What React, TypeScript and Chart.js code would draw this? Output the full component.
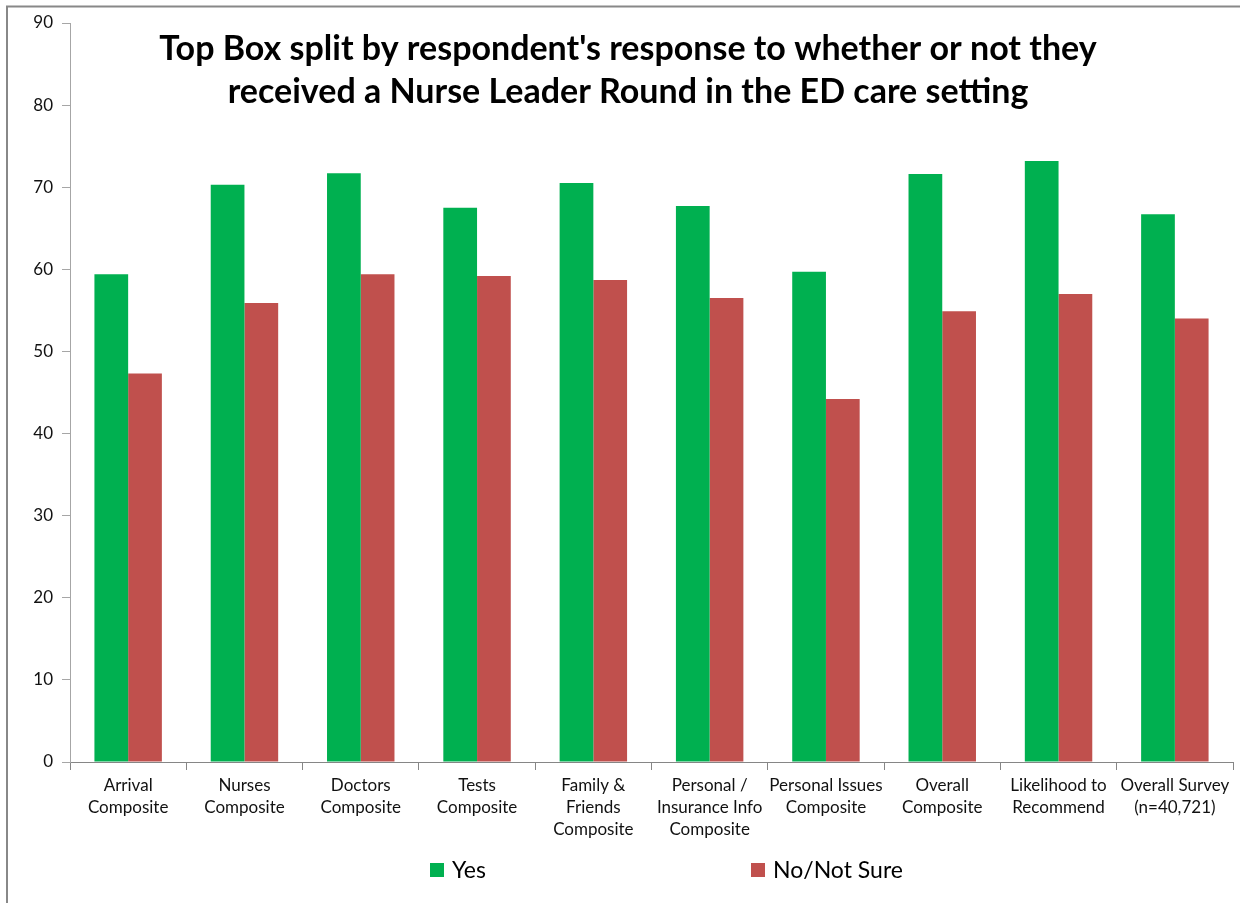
import React, { useEffect, useRef } from "react";
import { Chart, registerables } from "chart.js";

Chart.register(...registerables);

const titleLines = [
  "Top Box split by respondent's response to whether or not they",
  "received a Nurse Leader Round in the ED care setting",
];

const categories: string[][] = [
  ["Arrival", "Composite"],
  ["Nurses", "Composite"],
  ["Doctors", "Composite"],
  ["Tests", "Composite"],
  ["Family &", "Friends", "Composite"],
  ["Personal /", "Insurance Info", "Composite"],
  ["Personal Issues", "Composite"],
  ["Overall", "Composite"],
  ["Likelihood to", "Recommend"],
  ["Overall Survey", "(n=40,721)"],
];

const yesValues = [59.4, 70.3, 71.7, 67.5, 70.5, 67.7, 59.7, 71.6, 73.2, 66.7];
const noValues = [47.3, 55.9, 59.4, 59.2, 58.7, 56.5, 44.2, 54.9, 57.0, 54.0];

const seriesNames = ["Yes", "No/Not Sure"];
const seriesColors = ["#00B050", "#C0504D"];

const yMin = 0;
const yMax = 90;
const yStep = 10;

const FONT = "Lato, 'Open Sans', sans-serif";

const decorPlugin = {
  id: "decor",
  afterDraw(chart: any) {
    const ctx = chart.ctx;
    ctx.save();
    // outer frame (top & left)
    ctx.strokeStyle = "#888888";
    ctx.lineWidth = 2;
    ctx.beginPath();
    ctx.moveTo(7, 903);
    ctx.lineTo(7, 6.5);
    ctx.lineTo(1240, 6.5);
    ctx.stroke();

    // title
    ctx.fillStyle = "#000000";
    ctx.font = `bold 34px ${FONT}`;
    ctx.textAlign = "center";
    ctx.textBaseline = "alphabetic";
    ctx.fillText(titleLines[0], 628, 60);
    ctx.fillText(titleLines[1], 628, 103);

    // legend
    const legendX = [430, 751];
    ctx.font = `23px ${FONT}`;
    ctx.textAlign = "left";
    ctx.textBaseline = "middle";
    chart.data.datasets.forEach((ds: any, i: number) => {
      ctx.fillStyle = ds.backgroundColor;
      ctx.fillRect(legendX[i], 863, 14, 14);
      ctx.fillStyle = "#000000";
      ctx.fillText(ds.label, legendX[i] + 22, 871);
    });
    ctx.restore();
  },
};

export default function App() {
  const canvasRef = useRef<HTMLCanvasElement | null>(null);

  useEffect(() => {
    if (!canvasRef.current) return;
    const chart = new Chart(canvasRef.current, {
      type: "bar",
      data: {
        labels: categories,
        datasets: [
          {
            label: seriesNames[0],
            data: yesValues,
            backgroundColor: seriesColors[0],
            barPercentage: 1,
            categoryPercentage: 0.58,
          },
          {
            label: seriesNames[1],
            data: noValues,
            backgroundColor: seriesColors[1],
            barPercentage: 1,
            categoryPercentage: 0.58,
          },
        ],
      },
      options: {
        animation: false,
        responsive: false,
        layout: { padding: { top: 23, right: 7, left: 0, bottom: 0 } },
        plugins: {
          legend: { display: false },
          title: { display: false },
          tooltip: { enabled: false },
        },
        scales: {
          x: {
            grid: {
              drawOnChartArea: false,
              drawTicks: true,
              tickLength: 8,
              color: "#868686",
              offset: true,
            },
            border: { display: true, color: "#868686", width: 1 },
            ticks: {
              color: "#111111",
              font: { family: FONT, size: 17, lineHeight: 1.3 },
              padding: 4,
              maxRotation: 0,
              autoSkip: false,
            },
            afterFit: (scale: any) => {
              scale.height = 141;
            },
          },
          y: {
            min: yMin,
            max: yMax,
            grid: {
              drawOnChartArea: false,
              drawTicks: true,
              tickLength: 8,
              color: "#A6A6A6",
            },
            border: { display: true, color: "#A6A6A6", width: 1 },
            ticks: {
              stepSize: yStep,
              color: "#111111",
              font: { family: FONT, size: 17 },
              padding: 9,
            },
            afterFit: (scale: any) => {
              scale.width = 70;
            },
          },
        },
      },
      plugins: [decorPlugin],
    });
    return () => chart.destroy();
  }, []);

  return (
    <div style={{ position: "absolute", left: 0, top: 0, width: 1240, height: 903, background: "#ffffff" }}>
      <canvas ref={canvasRef} width={1240} height={903} />
    </div>
  );
}
